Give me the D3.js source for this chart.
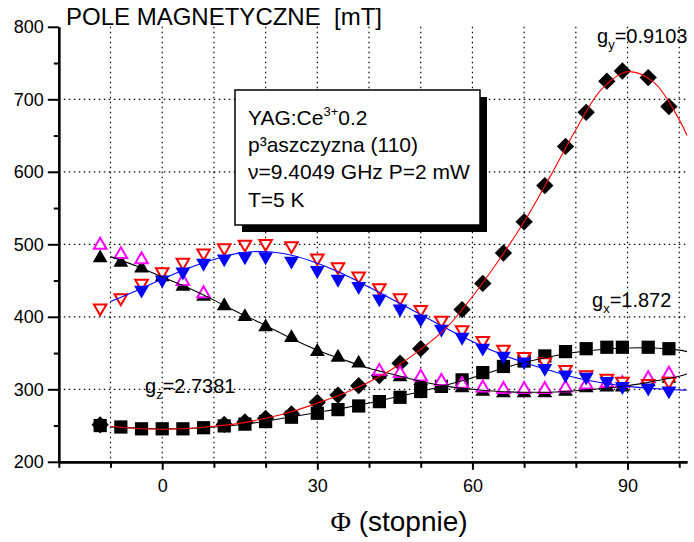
<!DOCTYPE html>
<html><head><meta charset="utf-8">
<script src="https://cdn.jsdelivr.net/npm/d3@7"></script>
<style>body{margin:0;background:#fff} svg{display:block} text{font-family:"Liberation Sans",Arial,sans-serif;fill:#000}</style>
</head><body>
<svg id="c" width="694" height="542"></svg>
<script>
// ---- data ----
const phiSquares = [-12,-8,-4,0,4,8,12,16,20,25,30,34,38,42,46,50,54,58,62,66,70,74,78,82,86,89,94,98];
const gxSquares  = [250,248,245.5,245.5,245.5,247,249.5,252,255.5,261.5,267,272,277,283,289,297,304,313,323,331.5,339,346,352,356,358,358,358,356];
const phiDiam = [-12,12,16,20,25,30,34,38,42,46,50,58,62,66,70,74,78,82,86,89,94,98];
const gyDiam  = [251,251.5,255,260,266,282,292,305,319,336,356,410,446,488,531,581,635,682,725,739,730,690];
const phiTri = [-12,-8,-4,0,4,8,12,16,20,25,30,34,38,42,46,50,54,58,62,66,70,74,78,82,86,89,94,98];
const gzTri  = [481,475,467,455,442,428,415,400,386,371,352,344,336,320,317,312,306,302,297,295,295,295,297,302,303,303,310,315];
const phiMag = [-12,-8,-4,4,8,42,46,50,54,58,62,66,70,74,78,82,86,89,94,98];
const magVals = [499,486,479,449,432,325,322,317,311,307,302,300,300,300,302,306,308,308,315,321];
const phiRed = [-12,-8,-4,0,4,8,12,16,20,25,30,34,38,42,46,50,54,58,62,66,70,74,78,82,86,89,94,98];
const redVals = [412,426,446,462,475,488,495,500,501,498,481,469,456,440,426,410,395,382,367,355,345,338,327,320,315,311,308,311];
const phiBlue = [-4,0,4,8,12,16,20,25,30,34,38,42,46,50,54,58,62,66,70,74,78,82,86,89,94,98];
const blueVals = [437,451,462,474,480,483,483,477,464,452,442,425,411,397,383,372,357,346,338,329,320,317,311,304,302,298];
// fitted curves
const fitPhi = [-10,-5,0,5,10,15,20,25,30,35,40,45,50,55,60,65,70,75,80,85,90,95,100,101.5];
const fitGy  = [249,246,245,246,249,253,260,269,281,294,310,330,355,385,428,477,531,593,658,714,738,724,672,650];
const fitGx  = [248,246.5,245.5,246,248,251,256,262,268,274,281,289,297,306,316,327,337,345,351,355,357,357,354,352];
const fitGz  = [483,470,455,440,423,405,388,370,354,341,329,320,311,304,300,297,296,296,298,301,305,311,318,321];
const fitBlue= [421,436,452,467,479,488,490,485,474,459,441,422,403,384,366,350,337,326,316,309,304,301,299,299];
// ticks
const yMajor = [200,300,400,500,600,700,800];
const yMinor = [250,350,450,550,650,750];
const xMajor = [0,30,60,90];
const xMinor = [-20,-10,10,20,40,50,70,80,100];
const xGrid = [-10,0,10,20,30,40,50,60,70,80,90,100];
const yGrid = [300,400,500,600,700];

const svg = d3.select("#c");
const x = d3.scaleLinear().domain([-20,101.5]).range([58.8,687]);
const y = d3.scaleLinear().domain([200,800]).range([461.8,26.8]);

// grid
const grid = svg.append("g").attr("stroke","#000").attr("stroke-width",1.2).attr("stroke-dasharray","1.5,3.5");
grid.selectAll(".gv").data(xGrid).join("line")
  .attr("x1",d=>x(d)).attr("x2",d=>x(d)).attr("y1",y(800)).attr("y2",y(200));
grid.selectAll(".gh").data(yGrid).join("line")
  .attr("y1",d=>y(d)).attr("y2",d=>y(d)).attr("x1",x(-20)).attr("x2",x(101.5));

// text box with shadow
const bx = 235, by = 90, bw = 245, bh = 135;
svg.append("rect").attr("x",bx+7).attr("y",by+7).attr("width",bw).attr("height",bh).attr("fill","#000");
svg.append("rect").attr("x",bx).attr("y",by).attr("width",bw).attr("height",bh).attr("fill","#fff").attr("stroke","#000").attr("stroke-width",1.5);
const bt = svg.append("g").attr("font-size",21);
const t1 = bt.append("text").attr("x",248).attr("y",125);
t1.append("tspan").text("YAG:Ce");
t1.append("tspan").attr("font-size",13).attr("dy",-9).text("3+");
t1.append("tspan").attr("dy",9).text("0.2");
bt.append("text").attr("x",248).attr("y",152).text("p³aszczyzna (110)");
bt.append("text").attr("x",248).attr("y",179).text("ν=9.4049 GHz P=2 mW");
bt.append("text").attr("x",248).attr("y",207).text("T=5 K");

// markers
const sq = d3.symbol().type(d3.symbolSquare).size(175)();
const dia = d3.symbol().type(d3.symbolSquare).size(150)();
const tri = d3.symbol().type(d3.symbolTriangle).size(95)();
const triO = d3.symbol().type(d3.symbolTriangle).size(68)();

function pts(phis, vals){ return phis.map((p,i)=>[p,vals[i]]); }

svg.append("g").selectAll("path").data(pts(phiSquares,gxSquares)).join("path")
  .attr("d",sq).attr("fill","#000").attr("transform",d=>`translate(${x(d[0])},${y(d[1])})`);
svg.append("g").selectAll("path").data(pts(phiDiam,gyDiam)).join("path")
  .attr("d",dia).attr("fill","#000").attr("transform",d=>`translate(${x(d[0])},${y(d[1])}) rotate(45)`);
svg.append("g").selectAll("path").data(pts(phiTri,gzTri)).join("path")
  .attr("d",tri).attr("fill","#000").attr("transform",d=>`translate(${x(d[0])},${y(d[1])})`);
svg.append("g").selectAll("path").data(pts(phiMag,magVals)).join("path")
  .attr("d",triO).attr("fill","#fff").attr("stroke","#ff00ff").attr("stroke-width",2)
  .attr("transform",d=>`translate(${x(d[0])},${y(d[1])})`);
svg.append("g").selectAll("path").data(pts(phiRed,redVals)).join("path")
  .attr("d",triO).attr("fill","#fff").attr("stroke","#ff0000").attr("stroke-width",2)
  .attr("transform",d=>`translate(${x(d[0])},${y(d[1])}) rotate(180)`);
svg.append("g").selectAll("path").data(pts(phiBlue,blueVals)).join("path")
  .attr("d",tri).attr("fill","#0000ff").attr("transform",d=>`translate(${x(d[0])},${y(d[1])}) rotate(180)`);

// fit lines
const line = d3.line().x(d=>x(d[0])).y(d=>y(d[1])).curve(d3.curveCatmullRom);
const fits = [[fitGx,"#000"],[fitGz,"#000"],[fitBlue,"#0000ff"],[fitGy,"#ff0000"]];
fits.forEach(([v,c])=>{
  svg.append("path").datum(pts(fitPhi,v)).attr("d",line).attr("fill","none").attr("stroke",c).attr("stroke-width",1.1);
});

// axes
const yAx = svg.append("g").attr("transform",`translate(${x(-20)},0)`)
  .call(d3.axisLeft(y).tickValues(yMajor).tickSize(11).tickPadding(4).tickSizeOuter(0).tickFormat(d3.format("d")));
svg.append("g").attr("transform",`translate(${x(-20)},0)`)
  .call(d3.axisLeft(y).tickValues(yMinor).tickSize(5).tickSizeOuter(0).tickFormat(""));
const xAx = svg.append("g").attr("transform",`translate(0,${y(200)})`)
  .call(d3.axisBottom(x).tickValues(xMajor).tickSize(8).tickPadding(9).tickSizeOuter(0).tickFormat(d3.format("d")));
svg.append("g").attr("transform",`translate(0,${y(200)})`)
  .call(d3.axisBottom(x).tickValues(xMinor).tickSize(6).tickSizeOuter(0).tickFormat(""));
svg.selectAll(".domain").attr("stroke","#000").attr("stroke-width",2.2);
svg.selectAll(".tick line").attr("stroke","#000").attr("stroke-width",2);
yAx.selectAll("text").attr("font-size",18).attr("font-family","Liberation Sans, Arial, sans-serif").attr("fill","#000");
xAx.selectAll("text").attr("font-size",18).attr("font-family","Liberation Sans, Arial, sans-serif").attr("fill","#000");

// title
svg.append("text").attr("x",66).attr("y",25).attr("font-size",24).style("white-space","pre").text("POLE MAGNETYCZNE  [mT]");

// x axis label
const xl = svg.append("text").attr("x",399).attr("y",531).attr("text-anchor","middle").attr("font-size",28);
xl.append("tspan").attr("font-family","Liberation Serif, Times New Roman, serif").text("Φ");
xl.append("tspan").text(" (stopnie)");

// g annotations
function gLabel(px,py,sub,val){
  const t = svg.append("text").attr("x",px).attr("y",py).attr("font-size",20);
  t.append("tspan").text("g");
  t.append("tspan").attr("font-size",13).attr("dy",6).text(sub);
  t.append("tspan").attr("dy",-6).text("=" + val);
}
gLabel(597,43,"y","0.9103");
gLabel(592,307,"x","1.872");
gLabel(145,393,"z","2.7381");
</script>
</body></html>
